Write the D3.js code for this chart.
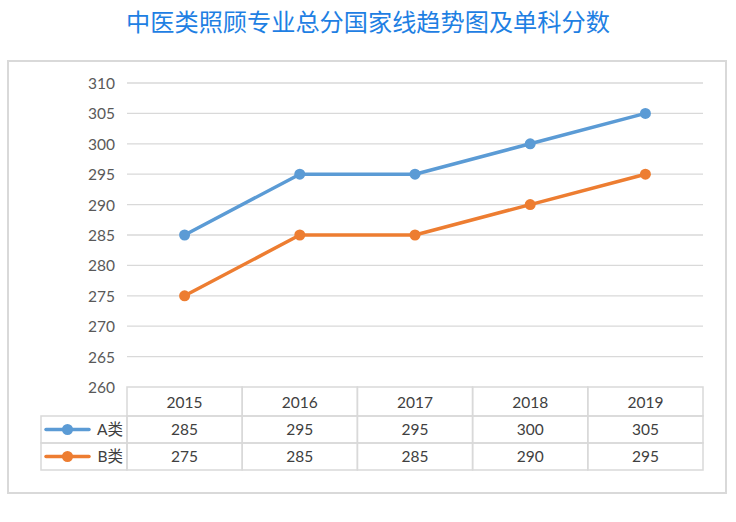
<!DOCTYPE html>
<html><head><meta charset="utf-8">
<script src="https://cdn.jsdelivr.net/npm/d3@7"></script>
<style>
body{margin:0;background:#fff;}
svg{display:block;}
</style></head>
<body>
<svg id="chart" width="736" height="522"></svg>
<script>
const title = "中医类照顾专业总分国家线趋势图及单科分数";
const years = ["2015","2016","2017","2018","2019"];
const seriesNames = ["A类","B类"];
const seriesA = [285,295,295,300,305];
const seriesB = [275,285,285,290,295];
const colors = ["#5B9BD5","#ED7D31"];
const yTicks = [260,265,270,275,280,285,290,295,300,305,310];

const series = [
  {name: seriesNames[0], values: seriesA, color: colors[0]},
  {name: seriesNames[1], values: seriesB, color: colors[1]}
];

const svg = d3.select("#chart");
const numFont = "Lato, 'Noto Sans CJK SC', sans-serif";

// title
svg.append("text").attr("x", 368).attr("y", 31).attr("text-anchor","middle")
  .attr("font-family","'Noto Sans CJK SC', sans-serif").attr("font-size",24.2)
  .attr("fill","#1E80E3").text(title);

// outer frame
svg.append("rect").attr("x",8).attr("y",61).attr("width",718).attr("height",432)
  .attr("fill","none").attr("stroke","#d9d9d9").attr("stroke-width",2);

const left = 127, right = 703;
const x = d3.scaleBand().domain(years).range([left,right]);
const y = d3.scaleLinear().domain([260,310]).range([387,83]);

// grid
svg.append("g").selectAll("line").data(yTicks.filter(d=>d>260)).join("line")
  .attr("x1",left).attr("x2",right).attr("y1",d=>y(d)).attr("y2",d=>y(d))
  .attr("stroke","#d9d9d9").attr("stroke-width",1.3);

// y axis labels
const yAxis = d3.axisLeft(y).tickValues(yTicks).tickSize(0).tickPadding(0);
const ga = svg.append("g").attr("transform",`translate(115,0)`).call(yAxis);
ga.select(".domain").remove();
ga.selectAll("text").attr("font-family",numFont).attr("font-size",15.5).attr("fill","#595959").attr("dy","0.35em");

// lines
const line = d3.line().x((d,i)=>x(years[i])+x.bandwidth()/2).y(d=>y(d));
series.forEach(s=>{
  svg.append("path").datum(s.values).attr("d",line).attr("fill","none")
    .attr("stroke",s.color).attr("stroke-width",3.5).attr("stroke-linejoin","round");
  svg.append("g").selectAll("circle").data(s.values).join("circle")
    .attr("cx",(d,i)=>x(years[i])+x.bandwidth()/2).attr("cy",d=>y(d)).attr("r",5.5)
    .attr("fill",s.color);
});

// data table
const rowTop = 387, headerH = 29, rowH = 27;
const tbl = svg.append("g");
const gridCol = "#d9d9d9";
years.forEach((yr,i)=>{
  tbl.append("rect").attr("x",x(yr)).attr("y",rowTop).attr("width",x.bandwidth()).attr("height",headerH)
    .attr("fill","none").attr("stroke",gridCol).attr("stroke-width",1.5);
  tbl.append("text").attr("x",x(yr)+x.bandwidth()/2).attr("y",rowTop+headerH/2+1).attr("dy","0.35em")
    .attr("text-anchor","middle").attr("font-family",numFont).attr("font-size",15.5).attr("fill","#404040").text(yr);
});
series.forEach((s,si)=>{
  const ry = rowTop+headerH+si*rowH;
  tbl.append("rect").attr("x",41).attr("y",ry).attr("width",left-41).attr("height",rowH)
    .attr("fill","none").attr("stroke",gridCol).attr("stroke-width",1.5);
  tbl.append("line").attr("x1",46).attr("x2",89).attr("y1",ry+rowH/2).attr("y2",ry+rowH/2)
    .attr("stroke",s.color).attr("stroke-width",3.5).attr("stroke-linecap","round");
  tbl.append("circle").attr("cx",67.5).attr("cy",ry+rowH/2).attr("r",5.5).attr("fill",s.color);
  tbl.append("text").attr("x",123).attr("y",ry+rowH/2).attr("dy","0.35em").attr("text-anchor","end")
    .attr("font-family",numFont).attr("font-size",15.5).attr("fill","#404040").text(s.name);
  s.values.forEach((v,i)=>{
    tbl.append("rect").attr("x",x(years[i])).attr("y",ry).attr("width",x.bandwidth()).attr("height",rowH)
      .attr("fill","none").attr("stroke",gridCol).attr("stroke-width",1.5);
    tbl.append("text").attr("x",x(years[i])+x.bandwidth()/2).attr("y",ry+rowH/2).attr("dy","0.35em")
      .attr("text-anchor","middle").attr("font-family",numFont).attr("font-size",15.5).attr("fill","#404040").text(v);
  });
});
</script>
</body></html>
